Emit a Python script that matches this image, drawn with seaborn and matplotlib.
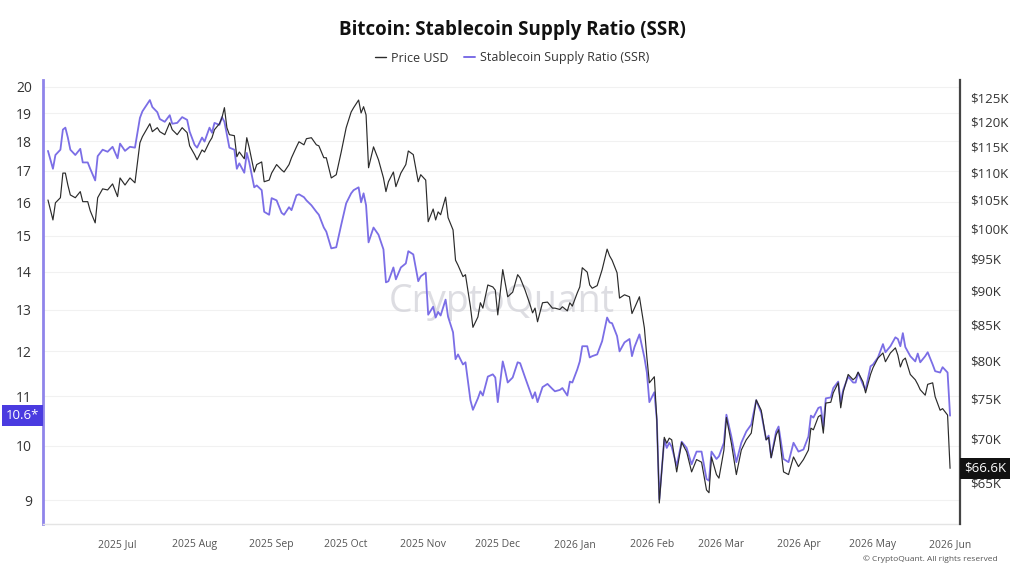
import matplotlib
matplotlib.use("Agg")
import matplotlib.pyplot as plt
import matplotlib.dates as mdates
import matplotlib.transforms as mtransforms
from matplotlib.ticker import FixedLocator, FuncFormatter, NullLocator
from matplotlib.lines import Line2D
import pandas as pd
import seaborn as sns

# ---------------- data ----------------
dates = [
    "2025-06-03", "2025-06-05", "2025-06-06", "2025-06-08", "2025-06-09", "2025-06-10", "2025-06-11", "2025-06-12",
    "2025-06-14", "2025-06-16", "2025-06-17", "2025-06-19", "2025-06-20", "2025-06-22", "2025-06-23", "2025-06-25",
    "2025-06-27", "2025-06-29", "2025-07-01", "2025-07-02", "2025-07-04", "2025-07-06", "2025-07-08", "2025-07-10",
    "2025-07-11", "2025-07-14", "2025-07-15", "2025-07-17", "2025-07-18", "2025-07-20", "2025-07-22", "2025-07-23",
    "2025-07-25", "2025-07-27", "2025-07-29", "2025-07-30", "2025-08-01", "2025-08-02", "2025-08-04", "2025-08-05",
    "2025-08-07", "2025-08-08", "2025-08-09", "2025-08-11", "2025-08-12", "2025-08-13", "2025-08-14", "2025-08-15",
    "2025-08-17", "2025-08-18", "2025-08-19", "2025-08-21", "2025-08-22", "2025-08-23", "2025-08-25", "2025-08-26",
    "2025-08-28", "2025-08-29", "2025-08-31", "2025-09-01", "2025-09-03", "2025-09-05", "2025-09-06", "2025-09-08",
    "2025-09-09", "2025-09-11", "2025-09-12", "2025-09-14", "2025-09-15", "2025-09-17", "2025-09-19", "2025-09-20",
    "2025-09-22", "2025-09-23", "2025-09-25", "2025-09-27", "2025-09-29", "2025-10-01", "2025-10-03", "2025-10-04",
    "2025-10-06", "2025-10-07", "2025-10-08", "2025-10-09", "2025-10-10", "2025-10-12", "2025-10-14", "2025-10-16",
    "2025-10-17", "2025-10-18", "2025-10-20", "2025-10-21", "2025-10-23", "2025-10-25", "2025-10-26", "2025-10-28",
    "2025-10-30", "2025-10-31", "2025-11-02", "2025-11-03", "2025-11-05", "2025-11-06", "2025-11-07", "2025-11-08",
    "2025-11-10", "2025-11-11", "2025-11-13", "2025-11-14", "2025-11-15", "2025-11-17", "2025-11-18", "2025-11-20",
    "2025-11-21", "2025-11-23", "2025-11-24", "2025-11-25", "2025-11-27", "2025-11-29", "2025-11-30", "2025-12-01",
    "2025-12-03", "2025-12-04", "2025-12-05", "2025-12-07", "2025-12-09", "2025-12-10", "2025-12-12", "2025-12-14",
    "2025-12-15", "2025-12-16", "2025-12-17", "2025-12-19", "2025-12-21", "2025-12-23", "2025-12-24", "2025-12-26",
    "2025-12-27", "2025-12-29", "2025-12-30", "2025-12-31", "2026-01-02", "2026-01-03", "2026-01-04", "2026-01-06",
    "2026-01-07", "2026-01-08", "2026-01-10", "2026-01-12", "2026-01-14", "2026-01-15", "2026-01-16", "2026-01-18",
    "2026-01-19", "2026-01-21", "2026-01-23", "2026-01-24", "2026-01-25", "2026-01-27", "2026-01-29", "2026-01-30",
    "2026-01-31", "2026-02-02", "2026-02-03", "2026-02-04", "2026-02-06", "2026-02-07", "2026-02-08", "2026-02-09",
    "2026-02-11", "2026-02-13", "2026-02-15", "2026-02-17", "2026-02-19", "2026-02-21", "2026-02-23", "2026-02-24",
    "2026-02-25", "2026-02-27", "2026-02-28", "2026-03-02", "2026-03-03", "2026-03-05", "2026-03-07", "2026-03-09",
    "2026-03-11", "2026-03-13", "2026-03-15", "2026-03-17", "2026-03-19", "2026-03-20", "2026-03-21", "2026-03-23",
    "2026-03-24", "2026-03-26", "2026-03-28", "2026-03-30", "2026-04-01", "2026-04-03", "2026-04-05", "2026-04-06",
    "2026-04-07", "2026-04-09", "2026-04-10", "2026-04-11", "2026-04-12", "2026-04-14", "2026-04-15", "2026-04-17",
    "2026-04-18", "2026-04-19", "2026-04-21", "2026-04-23", "2026-04-24", "2026-04-25", "2026-04-27", "2026-04-28",
    "2026-04-30", "2026-05-01", "2026-05-03", "2026-05-05", "2026-05-06", "2026-05-08", "2026-05-10", "2026-05-11",
    "2026-05-12", "2026-05-13", "2026-05-14", "2026-05-16", "2026-05-18", "2026-05-19", "2026-05-20", "2026-05-22",
    "2026-05-23", "2026-05-25", "2026-05-26", "2026-05-28", "2026-05-29", "2026-05-31", "2026-06-01",
]

# Bitcoin price, thousands of USD
price_k = [
    105.0, 101.5, 104.5, 105.4, 109.9, 109.9, 107.7, 105.9,
    105.4, 106.5, 104.7, 104.7, 103.1, 101.0, 105.4, 107.0,
    106.8, 107.9, 105.6, 109.0, 107.7, 109.0, 108.1, 115.7,
    116.9, 119.5, 117.9, 118.7, 117.9, 117.3, 119.7, 118.3,
    117.3, 118.7, 117.7, 115.1, 113.4, 112.4, 114.3, 113.9,
    115.9, 116.7, 118.3, 119.5, 120.7, 122.8, 118.7, 117.3,
    117.1, 113.0, 113.9, 112.6, 116.7, 114.7, 110.1, 111.5,
    112.0, 108.3, 108.6, 109.9, 111.5, 110.5, 110.1, 111.5,
    112.8, 114.9, 115.9, 115.3, 116.5, 116.7, 115.3, 115.1,
    112.8, 112.8, 109.0, 109.6, 113.9, 118.7, 121.9, 122.8,
    124.4, 121.7, 123.0, 121.3, 110.9, 114.9, 112.4, 109.0,
    106.5, 108.3, 110.1, 107.4, 109.9, 111.5, 114.1, 113.4,
    108.3, 109.6, 108.6, 101.2, 103.4, 101.5, 102.9, 102.4,
    105.5, 101.9, 99.8, 94.8, 94.0, 92.2, 92.5, 87.6,
    84.6, 86.1, 88.2, 87.4, 90.9, 90.6, 90.1, 86.4,
    93.3, 91.2, 89.1, 89.8, 92.5, 92.0, 90.1, 87.9,
    86.7, 87.4, 85.4, 88.2, 88.3, 87.4, 87.4, 87.2,
    87.6, 87.0, 88.2, 87.7, 89.7, 90.6, 93.6, 92.9,
    90.9, 90.4, 90.8, 93.3, 96.6, 95.5, 94.8, 92.8,
    88.9, 89.4, 89.1, 86.6, 87.4, 89.1, 84.5, 80.4,
    77.0, 77.8, 72.3, 62.8, 70.2, 69.5, 70.1, 69.9,
    66.2, 69.6, 68.5, 66.2, 67.6, 67.3, 64.2, 63.9,
    67.9, 65.9, 65.5, 68.7, 72.6, 69.5, 65.9, 68.7,
    69.9, 70.7, 74.8, 73.5, 69.9, 70.2, 67.8, 70.5,
    71.1, 66.2, 65.9, 67.9, 66.8, 67.6, 68.7, 71.3,
    71.1, 72.7, 72.9, 70.7, 74.4, 74.5, 75.7, 77.0,
    73.8, 75.8, 78.1, 77.4, 77.7, 78.4, 77.1, 75.7,
    78.1, 79.0, 80.3, 81.0, 79.8, 81.0, 81.7, 80.7,
    79.1, 80.0, 80.3, 78.1, 77.4, 76.8, 76.1, 75.4,
    76.8, 77.0, 75.2, 73.5, 73.7, 72.9, 66.6,
]

# Stablecoin Supply Ratio
ssr = [
    17.67, 17.07, 17.53, 17.71, 18.41, 18.48, 18.13, 17.71,
    17.53, 17.74, 17.28, 17.28, 17.07, 16.69, 17.49, 17.71,
    17.64, 17.81, 17.42, 17.92, 17.67, 17.81, 17.78, 18.83,
    19.07, 19.49, 19.23, 19.04, 18.79, 18.69, 18.93, 18.62,
    18.65, 18.86, 18.76, 18.34, 17.88, 17.78, 18.13, 17.99,
    18.48, 18.30, 18.65, 18.58, 18.86, 18.69, 18.23, 17.78,
    17.71, 17.07, 17.25, 16.94, 17.60, 17.28, 16.47, 16.53,
    16.38, 15.71, 15.62, 16.13, 16.06, 15.68, 15.62, 15.85,
    15.76, 16.22, 16.25, 16.16, 16.06, 15.91, 15.71, 15.62,
    15.24, 15.12, 14.64, 14.67, 15.32, 15.97, 16.28, 16.38,
    16.47, 16.00, 16.28, 15.91, 14.81, 15.24, 15.03, 14.61,
    13.71, 13.74, 14.11, 13.79, 14.11, 14.22, 14.56, 14.47,
    13.74, 13.87, 13.97, 12.88, 13.08, 12.81, 12.95, 12.86,
    13.26, 12.83, 12.45, 11.82, 11.93, 11.70, 11.75, 10.92,
    10.72, 10.96, 11.11, 11.02, 11.43, 11.48, 11.41, 10.88,
    11.77, 11.55, 11.30, 11.41, 11.75, 11.73, 11.41, 11.11,
    10.96, 11.09, 10.88, 11.20, 11.27, 11.16, 11.11, 11.14,
    11.18, 11.02, 11.32, 11.30, 11.59, 11.77, 12.12, 12.12,
    11.86, 11.89, 11.93, 12.24, 12.81, 12.69, 12.67, 12.36,
    12.00, 12.21, 12.29, 11.89, 12.10, 12.40, 11.86, 11.52,
    10.88, 11.09, 10.52, 9.02, 10.12, 9.96, 10.06, 9.98,
    9.62, 10.08, 9.96, 9.65, 9.89, 9.89, 9.38, 9.35,
    9.89, 9.75, 9.80, 10.06, 10.62, 10.18, 9.69, 10.06,
    10.28, 10.42, 10.92, 10.66, 10.12, 10.20, 9.78, 10.28,
    10.38, 9.75, 9.69, 10.06, 9.89, 9.93, 10.18, 10.60,
    10.56, 10.76, 10.78, 10.38, 10.96, 10.98, 11.18, 11.32,
    10.88, 11.14, 11.43, 11.30, 11.30, 11.52, 11.25, 11.14,
    11.66, 11.70, 11.86, 12.17, 11.98, 12.12, 12.33, 12.29,
    12.12, 12.43, 12.10, 11.89, 11.77, 11.95, 11.75, 11.89,
    11.98, 11.70, 11.55, 11.52, 11.64, 11.52, 10.60,
]

ssr_ticks = [9, 10, 11, 12, 13, 14, 15, 16, 17, 18, 19, 20]
price_ticks_k = [65, 70, 75, 80, 85, 90, 95, 100, 105, 110, 115, 120, 125]
month_ticks = ["2025-07-01", "2025-08-01", "2025-09-01", "2025-10-01", "2025-11-01", "2025-12-01",
               "2026-01-01", "2026-02-01", "2026-03-01", "2026-04-01", "2026-05-01", "2026-06-01"]

title = "Bitcoin: Stablecoin Supply Ratio (SSR)"
price_label = "Price USD"
ssr_label = "Stablecoin Supply Ratio (SSR)"

assert len(dates) == len(price_k) == len(ssr)

# ---------------- style ----------------
SSR_COLOR = "#7b6ee6"
PRICE_COLOR = "#2b2b2b"
SSR_SPINE = "#8f84ea"
SSR_BOX = "#4a3be0"

sns.set_theme(style="white")
plt.rcParams['font.family'] = ['Open Sans', 'DejaVu Sans']

df = pd.DataFrame({"date": pd.to_datetime(dates), "price": price_k, "ssr": ssr})

W, H = 1024, 576
fig = plt.figure(figsize=(W / 100, H / 100), dpi=100)
fig.patch.set_facecolor("white")
L, R, T, B = 43, 960, 80, 524
ax = fig.add_axes([L / W, 1 - B / H, (R - L) / W, (B - T) / H])
ax2 = ax.twinx()

sns.lineplot(data=df, x="date", y="ssr", ax=ax, color=SSR_COLOR, linewidth=1.3, zorder=3)
sns.lineplot(data=df, x="date", y="price", ax=ax2, color=PRICE_COLOR, linewidth=0.85, zorder=4)

# left axis (SSR, log)
ax.set_yscale("log")
ax.set_ylim(8.6, 20.26)
ax.yaxis.set_major_locator(FixedLocator(ssr_ticks))
ax.yaxis.set_minor_locator(NullLocator())
ax.yaxis.set_major_formatter(FuncFormatter(lambda v, p: f"{v:g}"))
ax.tick_params(axis="y", length=0, labelsize=10, labelcolor="#333333", pad=8)
ax.yaxis.grid(True, color="#f1f1f1", linewidth=0.8)
ax.xaxis.grid(False)

# right axis (price, log)
ax2.set_yscale("log")
ax2.set_ylim(60.6, 128.7)
ax2.yaxis.set_major_locator(FixedLocator(price_ticks_k))
ax2.yaxis.set_minor_locator(NullLocator())
ax2.yaxis.set_major_formatter(FuncFormatter(lambda v, p: f"${v:g}K"))
ax2.tick_params(axis="y", length=0, labelsize=9.5, labelcolor="#333333", pad=7)
ax2.grid(False)

# x axis
ax.set_xlim(pd.Timestamp("2025-06-01"), pd.Timestamp("2026-06-05"))
ax.xaxis.set_major_locator(FixedLocator(mdates.date2num(pd.to_datetime(month_ticks))))
ax.xaxis.set_minor_locator(NullLocator())
ax.xaxis.set_major_formatter(mdates.DateFormatter("%Y %b"))
ax.tick_params(axis="x", length=4, width=0.8, color="#dddddd", labelsize=7.5, labelcolor="#555555", pad=7)

for a in (ax, ax2):
    a.set_xlabel("")
    a.set_ylabel("")

# spines
ax.spines["top"].set_visible(False)
ax.spines["right"].set_visible(False)
ax.spines["left"].set_color(SSR_SPINE)
ax.spines["left"].set_linewidth(2.0)
ax.spines["bottom"].set_color("#e4e4e4")
ax.spines["bottom"].set_linewidth(1.0)
for s in ("top", "left", "bottom"):
    ax2.spines[s].set_visible(False)
ax2.spines["right"].set_color("#444444")
ax2.spines["right"].set_linewidth(1.6)

# current-value boxes
tl = mtransforms.blended_transform_factory(ax.transAxes, ax.transData)
ax.text(-0.004, ssr[-1], f"{ssr[-1]:.1f}*", transform=tl, ha="right", va="center",
        color="white", fontsize=9.5,
        bbox=dict(boxstyle="square,pad=0.3", fc=SSR_BOX, ec="none"), zorder=10)
tr = mtransforms.blended_transform_factory(ax2.transAxes, ax2.transData)
ax2.text(1.004, price_k[-1], f"${price_k[-1]:.1f}K", transform=tr, ha="left", va="center",
         color="white", fontsize=9.5,
         bbox=dict(boxstyle="square,pad=0.3", fc="#111111", ec="none"), zorder=10)

# watermark
ax.text(0.5, 0.5, "CryptoQuant", transform=ax.transAxes, ha="center", va="center",
        fontsize=27, color="#cfcfd6", alpha=0.7, zorder=1)

# title and legend
fig.text(0.5, 1 - 30 / H, title, ha="center", va="center", fontsize=13.5, fontweight="bold",
         color="#111111", family=["Open Sans", "DejaVu Sans"])
handles = [Line2D([], [], color=PRICE_COLOR, lw=1.0), Line2D([], [], color=SSR_COLOR, lw=1.4)]
fig.legend(handles, [price_label, ssr_label], loc="center", bbox_to_anchor=(0.5, 1 - 58 / H),
           ncol=2, frameon=False, fontsize=9, handlelength=0.9, handletextpad=0.4, columnspacing=1.2,
           labelcolor="#333333")

fig.text(998 / W, 1 - 559 / H, "© CryptoQuant. All rights reserved", ha="right", va="center",
         fontsize=6, color="#555555")

fig.savefig("out.png", dpi=100, facecolor="white")
